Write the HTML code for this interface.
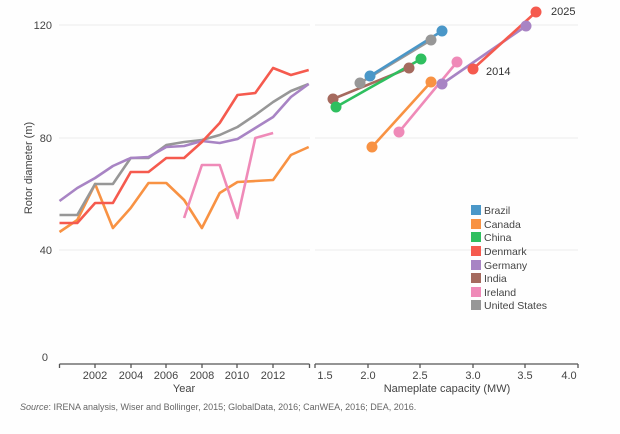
<!DOCTYPE html>
<html><head><meta charset="utf-8"><style>
html,body{margin:0;padding:0;background:#fefefe;}
svg{display:block;font-family:"Liberation Sans",sans-serif;}
</style></head><body>
<svg width="620" height="434" viewBox="0 0 620 434">
<rect width="620" height="434" fill="#fefefe"/>
<g stroke="#ececec" stroke-width="1">
<line x1="59" y1="25" x2="310" y2="25"/><line x1="59" y1="138" x2="310" y2="138"/><line x1="59" y1="250" x2="310" y2="250"/>
<line x1="315" y1="25" x2="578" y2="25"/><line x1="315" y1="138" x2="578" y2="138"/><line x1="315" y1="250" x2="578" y2="250"/>
</g>
<g font-size="11" fill="#444" text-anchor="end">
<text x="52" y="29">120</text><text x="52" y="142">80</text><text x="52" y="254">40</text><text x="48" y="361">0</text>
</g>
<text transform="translate(32,168) rotate(-90)" font-size="11" fill="#444" text-anchor="middle">Rotor diameter (m)</text>
<g stroke="#555" stroke-width="1.3" fill="none">
<path d="M59.5 364H309.5M59.5 364v4M95 364v4M131 364v4M166 364v4M202 364v4M237 364v4M273 364v4M309.5 364v4"/>
<path d="M315 364H578M315 364v4M368 364v4M420 364v4M473 364v4M525 364v4M578 364v4"/>
</g>
<g font-size="11" fill="#444" text-anchor="middle">
<text x="95" y="379">2002</text><text x="131" y="379">2004</text><text x="166" y="379">2006</text><text x="202" y="379">2008</text><text x="237" y="379">2010</text><text x="273" y="379">2012</text>
<text x="325" y="379">1.5</text><text x="368" y="379">2.0</text><text x="420" y="379">2.5</text><text x="473" y="379">3.0</text><text x="525" y="379">3.5</text><text x="569" y="379">4.0</text>
<text x="184" y="392">Year</text><text x="447" y="392">Nameplate capacity (MW)</text>
</g>
<text x="20" y="410" font-size="9" fill="#666"><tspan font-style="italic">Source</tspan>: IRENA analysis, Wiser and Bollinger, 2015; GlobalData, 2016; CanWEA, 2016; DEA, 2016.</text>
<g fill="none" stroke-width="2.6" stroke-linejoin="round">
<polyline stroke="#f89243" points="59.5,232 77.3,220 95.1,184 112.9,228 130.7,208 148.5,183 166.3,183 184.1,200 201.9,228 219.7,193 237.5,182 255.3,181 273.1,180 290.9,155 308.7,147"/>
<polyline stroke="#ef8ab8" points="184.1,218 201.9,165 219.7,165 237.5,218 255.3,138 273.1,133"/>
<polyline stroke="#979797" points="59.5,215 77.3,215 95.1,184 112.9,184 130.7,158 148.5,158 166.3,145 184.1,142 201.9,140 219.7,135 237.5,127 255.3,115 273.1,102 290.9,91 308.7,84"/>
<polyline stroke="#a884c4" points="59.5,201 77.3,188 95.1,178 112.9,166 130.7,158 148.5,157 166.3,147 184.1,146 201.9,141 219.7,143 237.5,139 255.3,128 273.1,117 290.9,97 308.7,84"/>
<polyline stroke="#f55a4e" points="59.5,223 77.3,223 95.1,203 112.9,203 130.7,172 148.5,172 166.3,158 184.1,158 201.9,142 219.7,123 237.5,95 255.3,93 273.1,68 290.9,75 308.7,70"/>
</g>
<g stroke-width="2.6">
<line x1="372" y1="147" x2="431" y2="82" stroke="#f89243"/>
<line x1="399" y1="132" x2="457" y2="62" stroke="#ef8ab8"/>
<line x1="442" y1="84" x2="526" y2="26" stroke="#a884c4"/>
<line x1="473" y1="69" x2="536" y2="12" stroke="#f55a4e"/>
<line x1="333" y1="99" x2="409" y2="68" stroke="#a56a5e"/>
<line x1="336" y1="107" x2="421" y2="59" stroke="#2fbf5f"/>
<line x1="360" y1="83" x2="431" y2="40" stroke="#979797"/>
<line x1="370" y1="76" x2="442" y2="31" stroke="#4a97c8"/>
</g>
<g>
<circle cx="372" cy="147" r="5.5" fill="#f89243"/><circle cx="431" cy="82" r="5.5" fill="#f89243"/>
<circle cx="399" cy="132" r="5.5" fill="#ef8ab8"/><circle cx="457" cy="62" r="5.5" fill="#ef8ab8"/>
<circle cx="442" cy="84" r="5.5" fill="#a884c4"/><circle cx="526" cy="26" r="5.5" fill="#a884c4"/>
<circle cx="473" cy="69" r="5.5" fill="#f55a4e"/><circle cx="536" cy="12" r="5.5" fill="#f55a4e"/>
<circle cx="333" cy="99" r="5.5" fill="#a56a5e"/><circle cx="409" cy="68" r="5.5" fill="#a56a5e"/>
<circle cx="336" cy="107" r="5.5" fill="#2fbf5f"/><circle cx="421" cy="59" r="5.5" fill="#2fbf5f"/>
<circle cx="360" cy="83" r="5.5" fill="#979797"/><circle cx="431" cy="40" r="5.5" fill="#979797"/>
<circle cx="370" cy="76" r="5.5" fill="#4a97c8"/><circle cx="442" cy="31" r="5.5" fill="#4a97c8"/>
</g>
<g font-size="11" fill="#333">
<text x="551" y="15">2025</text><text x="486" y="75">2014</text>
</g>
<g font-size="10.5" fill="#444">
<rect x="471" y="205" width="10" height="10" fill="#4a97c8"/><text x="484" y="214">Brazil</text>
<rect x="471" y="219" width="10" height="10" fill="#f89243"/><text x="484" y="228">Canada</text>
<rect x="471" y="232" width="10" height="10" fill="#2fbf5f"/><text x="484" y="241">China</text>
<rect x="471" y="246" width="10" height="10" fill="#f55a4e"/><text x="484" y="255">Denmark</text>
<rect x="471" y="260" width="10" height="10" fill="#a884c4"/><text x="484" y="269">Germany</text>
<rect x="471" y="273" width="10" height="10" fill="#a56a5e"/><text x="484" y="282">India</text>
<rect x="471" y="287" width="10" height="10" fill="#ef8ab8"/><text x="484" y="296">Ireland</text>
<rect x="471" y="300" width="10" height="10" fill="#979797"/><text x="484" y="309">United States</text>
</g>
</svg>
</body></html>
